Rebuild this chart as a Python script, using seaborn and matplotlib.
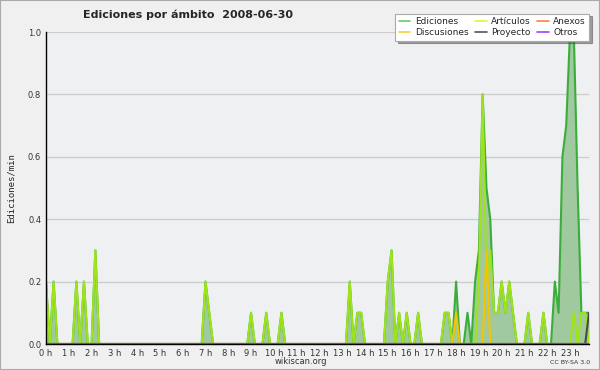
import numpy as np
import pandas as pd
import matplotlib.pyplot as plt
from matplotlib.lines import Line2D
from matplotlib.patches import Rectangle
import seaborn as sns

# ediciones/min, una muestra cada 10 minutos (0h00 .. 23h50), una fila = 2 horas
ediciones = [
    0.2, 0, 0.2, 0, 0, 0, 0, 0, 0.2, 0, 0.2, 0,
    0, 0.3, 0, 0, 0, 0, 0, 0, 0, 0, 0, 0,
    0, 0, 0, 0, 0, 0, 0, 0, 0, 0, 0, 0,
    0, 0, 0, 0, 0, 0, 0.2, 0.1, 0, 0, 0, 0,
    0, 0, 0, 0, 0, 0, 0.1, 0, 0, 0, 0.1, 0,
    0, 0, 0.1, 0, 0, 0, 0, 0, 0, 0, 0, 0,
    0, 0, 0, 0, 0, 0, 0, 0, 0.2, 0, 0.1, 0.1,
    0, 0, 0, 0, 0, 0, 0.2, 0.3, 0, 0.1, 0, 0.1,
    0, 0, 0.1, 0, 0, 0, 0, 0, 0, 0.1, 0.1, 0,
    0.2, 0, 0, 0.1, 0, 0.2, 0.3, 0.8, 0.5, 0.4, 0.1, 0.1,
    0.2, 0.1, 0.2, 0.1, 0, 0, 0, 0.1, 0, 0, 0, 0.1,
    0, 0, 0.2, 0.1, 0.6, 0.7, 1.0, 1.0, 0.5, 0.1, 0.1, 0.1,
]
articulos = [
    0.2, 0, 0.2, 0, 0, 0, 0, 0, 0.2, 0, 0.2, 0,
    0, 0.3, 0, 0, 0, 0, 0, 0, 0, 0, 0, 0,
    0, 0, 0, 0, 0, 0, 0, 0, 0, 0, 0, 0,
    0, 0, 0, 0, 0, 0, 0.2, 0.1, 0, 0, 0, 0,
    0, 0, 0, 0, 0, 0, 0.1, 0, 0, 0, 0.1, 0,
    0, 0, 0.1, 0, 0, 0, 0, 0, 0, 0, 0, 0,
    0, 0, 0, 0, 0, 0, 0, 0, 0.2, 0, 0.1, 0.1,
    0, 0, 0, 0, 0, 0, 0.2, 0.3, 0, 0.1, 0, 0.1,
    0, 0, 0.1, 0, 0, 0, 0, 0, 0, 0.1, 0.1, 0,
    0, 0, 0, 0, 0, 0, 0.2, 0.8, 0.2, 0.3, 0.1, 0.1,
    0.2, 0.1, 0.2, 0.1, 0, 0, 0, 0.1, 0, 0, 0, 0.1,
    0, 0, 0, 0, 0, 0, 0, 0.1, 0, 0.1, 0.1, 0,
]
discusiones = [
    0, 0, 0, 0, 0, 0, 0, 0, 0, 0, 0, 0,
    0, 0, 0, 0, 0, 0, 0, 0, 0, 0, 0, 0,
    0, 0, 0, 0, 0, 0, 0, 0, 0, 0, 0, 0,
    0, 0, 0, 0, 0, 0, 0, 0, 0, 0, 0, 0,
    0, 0, 0, 0, 0, 0, 0, 0, 0, 0, 0, 0,
    0, 0, 0, 0, 0, 0, 0, 0, 0, 0, 0, 0,
    0, 0, 0, 0, 0, 0, 0, 0, 0, 0, 0, 0,
    0, 0, 0, 0, 0, 0, 0, 0, 0, 0, 0, 0,
    0, 0, 0, 0, 0, 0, 0, 0, 0, 0, 0, 0,
    0.1, 0, 0, 0, 0, 0, 0, 0, 0.3, 0, 0, 0,
    0, 0, 0, 0, 0, 0, 0, 0, 0, 0, 0, 0,
    0, 0, 0, 0, 0, 0, 0, 0, 0, 0, 0, 0,
]
proyecto = [
    0, 0, 0, 0, 0, 0, 0, 0, 0, 0, 0, 0,
    0, 0, 0, 0, 0, 0, 0, 0, 0, 0, 0, 0,
    0, 0, 0, 0, 0, 0, 0, 0, 0, 0, 0, 0,
    0, 0, 0, 0, 0, 0, 0, 0, 0, 0, 0, 0,
    0, 0, 0, 0, 0, 0, 0, 0, 0, 0, 0, 0,
    0, 0, 0, 0, 0, 0, 0, 0, 0, 0, 0, 0,
    0, 0, 0, 0, 0, 0, 0, 0, 0, 0, 0, 0,
    0, 0, 0, 0, 0, 0, 0, 0, 0, 0, 0, 0,
    0, 0, 0, 0, 0, 0, 0, 0, 0, 0, 0, 0,
    0, 0, 0, 0, 0, 0, 0, 0, 0, 0, 0, 0,
    0, 0, 0, 0, 0, 0, 0, 0, 0, 0, 0, 0,
    0, 0, 0, 0, 0, 0, 0, 0, 0, 0, 0, 0.1,
]
anexos = [0] * 144  # nada ese dia
otros = [0] * 144

horas = np.arange(144) / 6  # 10 min -> horas
hour_labels = ['%d h' % h for h in range(24)]

series = {
    'Ediciones': ediciones,
    'Artículos': articulos,
    'Anexos': anexos,
    'Discusiones': discusiones,
    'Proyecto': proyecto,
    'Otros': otros,
}
colores = {
    'Ediciones': '#3aad3a',
    'Artículos': '#9fe31a',
    'Anexos': '#ff7f3f',
    'Discusiones': '#f5c400',
    'Proyecto': '#4a4a4a',
    'Otros': '#9944ff',
}
legend_colors = {
    'Ediciones': '#66cc66',
    'Artículos': '#ccff33',
    'Anexos': '#ff7f3f',
    'Discusiones': '#ffcc33',
    'Proyecto': '#555555',
    'Otros': '#9944ff',
}

df = pd.concat([pd.DataFrame({'hora': horas, 'valor': v, 'ambito': k})
                for k, v in series.items()], ignore_index=True)

sns.set_style('white')
plt.rcParams['font.family'] = ['DejaVu Sans']

fig = plt.figure(figsize=(6, 3.7), dpi=100, facecolor='#f0f0f0')
ax = fig.add_axes([46 / 600, 1 - 344 / 370, 543 / 600, 312 / 370])
ax.set_facecolor('#eef0f2')

# area de ediciones totales
ax.fill_between(horas, ediciones, color='#a0c9a0', lw=0, zorder=1)
sns.lineplot(data=df, x='hora', y='valor', hue='ambito', hue_order=list(series),
             palette=colores, estimator=None, linewidth=1.5, legend=False, ax=ax, zorder=2)

ax.set_xlim(0, 143 / 6)
ax.set_ylim(0, 1.0)
ax.set_xticks(range(24))
ax.set_xticklabels(hour_labels)
ax.set_xticks(np.arange(144) / 6, minor=True)
ax.set_yticks(np.arange(0, 1.01, 0.2))
ax.set_yticklabels(['%.1f' % t for t in np.arange(0, 1.01, 0.2)])
ax.set_yticks(np.arange(0, 1.01, 0.05), minor=True)
ax.tick_params(which='major', direction='out', length=3, width=0.8, color='black',
               labelsize=6, labelcolor='#333333', pad=0.5)
ax.tick_params(which='minor', direction='out', length=2.5, width=0.8, color='black')
ax.yaxis.grid(True, color='#cccccc', lw=0.9)
ax.xaxis.grid(False)
ax.set_axisbelow(True)
for s in ['top', 'right']:
    ax.spines[s].set_visible(False)
for s in ['left', 'bottom']:
    ax.spines[s].set_color('black')
    ax.spines[s].set_linewidth(1.0)
    ax.spines[s].set_zorder(5)
ax.set_xlabel('')
ax.set_ylabel('Ediciones/min', fontsize=6.5, family='DejaVu Sans Mono', labelpad=9)

fig.text(188 / 600, 1 - 15 / 370, 'Ediciones por ámbito  2008-06-30', ha='center', va='center',
         fontsize=8, fontweight='bold')
fig.text(301 / 600, 1 - 362 / 370, 'wikiscan.org', ha='center', va='center', fontsize=6, color='#333333')
fig.text(590 / 600, 1 - 362 / 370, 'CC BY-SA 3.0', ha='right', va='center', fontsize=4.5, color='#333333')

order = ['Ediciones', 'Discusiones', 'Artículos', 'Proyecto', 'Anexos', 'Otros']
handles = [Line2D([], [], color=legend_colors[k], lw=1.2) for k in order]
leg = fig.legend(handles, order, ncol=3, loc='upper right', bbox_to_anchor=(594 / 600, 1 - 9 / 370),
                 fontsize=6.5, frameon=True, fancybox=False, shadow=True, handlelength=1.3,
                 handletextpad=0.5, columnspacing=0.7, labelspacing=0.2, borderpad=0.4)
leg.get_frame().set_edgecolor('#aaaaaa')
leg.get_frame().set_facecolor('white')
leg.get_frame().set_linewidth(0.8)

fig.patches.append(Rectangle((0, 0), 1, 1, transform=fig.transFigure, fill=False,
                             edgecolor='#aaaaaa', lw=1.5, zorder=10))

plt.savefig('out.png', dpi=100, facecolor=fig.get_facecolor())
